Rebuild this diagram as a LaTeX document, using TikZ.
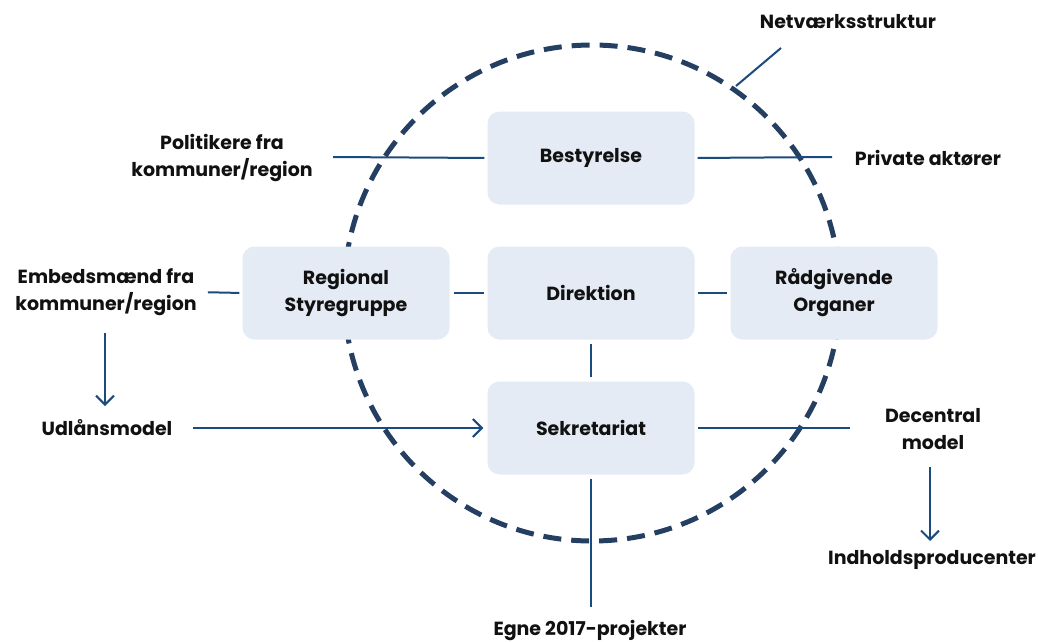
\documentclass[tikz,border=0pt]{standalone}
\usepackage{fontspec}
\setmainfont{Poppins}
\usetikzlibrary{arrows.meta}
\definecolor{boxfill}{HTML}{E4EBF4}
\definecolor{linec}{HTML}{1B4B7C}
\definecolor{circc}{HTML}{253F62}
\definecolor{txt}{HTML}{111111}
\begin{document}
\begin{tikzpicture}[x=1pt,y=-1pt,
  box/.style={fill=boxfill, rounded corners=12pt, minimum width=207pt, minimum height=93pt, inner sep=0pt, align=center, text=txt, font=\fontsize{19}{27}\selectfont\bfseries},
  lbl/.style={align=center, inner sep=0pt, text=txt, font=\fontsize{19}{27}\selectfont\bfseries},
  conn/.style={draw=linec, line width=2pt},
  arr/.style={conn, -{Straight Barb[length=9pt,width=18pt,line width=2pt]}}]
\useasboundingbox (0,0) rectangle (1038,641);
% dashed circle
\draw[circc, line width=5pt, dash pattern=on 18pt off 10pt] (592,293) circle[radius=248pt];
% boxes
\node[box] (best) at (591,158) {Bestyrelse};
\node[box] (reg) at (346,293) {Regional\\Styregruppe};
\node[box] (dir) at (591,293) {Direktion};
\node[box] (rad) at (834,293) {Rådgivende\\Organer};
\node[box] (sek) at (591,428) {Sekretariat};
% labels
\node[lbl] (net) at (848,22) {Netværksstruktur};
\node[lbl] (pol) at (222,158) {Politikere fra\\kommuner/region};
\node[lbl] (priv) at (928,158) {Private aktører};
\node[lbl] (emb) at (106,292) {Embedsmænd fra\\kommuner/region};
\node[lbl] (udl) at (107,428) {Udlånsmodel};
\node[lbl] (dec) at (933,429) {Decentral\\model};
\node[lbl] (ind) at (932,560) {Indholdsproducenter};
\node[lbl] (egne) at (590,630) {Egne 2017-projekter};
% free ends
\coordinate (polE) at (333,157);
\coordinate (privW) at (832,157);
\coordinate (embS) at (105,333);
\coordinate (udlN) at (105,406);
\coordinate (decE) at (850,428);
\coordinate (decS) at (930,467);
\coordinate (indN) at (930,541);
\coordinate (egneN) at (591,607);
\coordinate (netA) at (736,86);
\coordinate (netB) at (781,48);
% connectors
\draw[conn, shorten >=3pt] (polE) -- (best.west);
\draw[conn, shorten <=3pt] (best.east) -- (privW);
\draw[conn, shorten <=11pt, shorten >=3pt] (emb.east) -- (reg.west);
\draw[conn, shorten <=4pt, shorten >=3pt] (reg.east) -- (dir.west);
\draw[conn, shorten <=3pt, shorten >=3pt] (dir.east) -- (rad.west);
\draw[conn, shorten <=4pt, shorten >=4pt] (dir.south) -- (sek.north);
\draw[arr] (embS) -- (udlN);
\draw[arr, shorten <=20pt, shorten >=4pt] (udl.east) -- (sek.west);
\draw[conn, shorten <=3pt] (sek.east) -- (decE);
\draw[arr] (decS) -- (indN);
\draw[conn, shorten <=4pt] (sek.south) -- (egneN);
\draw[conn] (netA) -- (netB);
\end{tikzpicture}
\end{document}
